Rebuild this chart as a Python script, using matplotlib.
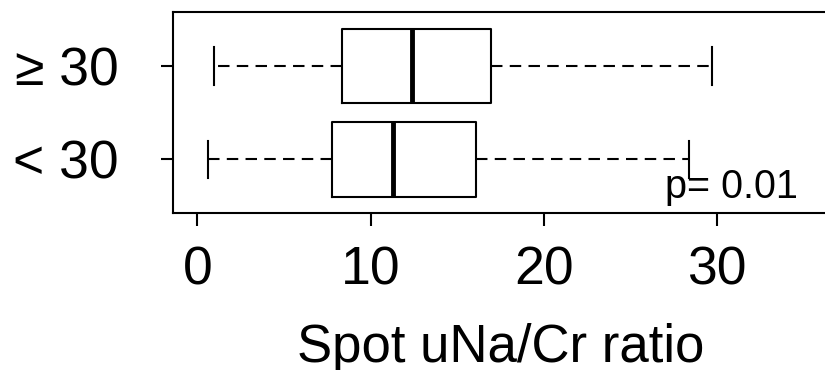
import matplotlib
matplotlib.use("Agg")
import matplotlib.pyplot as plt

plt.rcParams['font.family'] = ['Liberation Sans', 'DejaVu Sans']

# summary stats (bottom group first)
groups = ['< 30', '\u2265 30']
whislo = [0.6, 0.97]
q1 = [7.8, 8.38]
med = [11.3, 12.42]
q3 = [16.07, 16.95]
whishi = [28.4, 29.7]
xticks = [0, 10, 20, 30]
p_label = 'p= 0.01'

stats = []
for i in range(len(groups)):
    stats.append(dict(label=groups[i], whislo=whislo[i], q1=q1[i], med=med[i],
                      q3=q3[i], whishi=whishi[i], fliers=[]))

fig = plt.figure(figsize=(8.25, 3.7), dpi=100)
ax = fig.add_axes([173 / 825, 1 - 213.3 / 370, (828 - 173) / 825, 201.6 / 370])

ax.bxp(stats, positions=[1, 2], widths=0.8, capwidths=0.4,
       orientation='horizontal', showfliers=False,
       boxprops=dict(color='black', linewidth=1.5),
       medianprops=dict(color='black', linewidth=3.5, solid_capstyle='butt'),
       whiskerprops=dict(color='black', linewidth=1.5, linestyle=(0, (5.5, 3.5))),
       capprops=dict(color='black', linewidth=1.5))

ax.set_xlim(-1.4, 36.4)
ax.set_ylim(0.42, 2.58)
ax.set_xticks(xticks)
ax.set_xticklabels([str(t) for t in xticks])
ax.set_yticks([1, 2])
ax.set_yticklabels(groups)
ax.tick_params(axis='both', labelsize=38.5, length=9, width=1.5, color='black')
ax.tick_params(axis='y', pad=30)
ax.tick_params(axis='x', pad=14)
for s in ax.spines.values():
    s.set_linewidth(1.5)

ax.set_xlabel('Spot uNa/Cr ratio', fontsize=38, va='baseline')
ax.xaxis.set_label_coords(0.5, ((370 - 362) / 370 - (1 - 213.3 / 370)) / (201.6 / 370))

ax.text(34.65, 0.58, p_label, fontsize=28.5, ha='right', va='baseline')

fig.savefig('out.png', dpi=100)
